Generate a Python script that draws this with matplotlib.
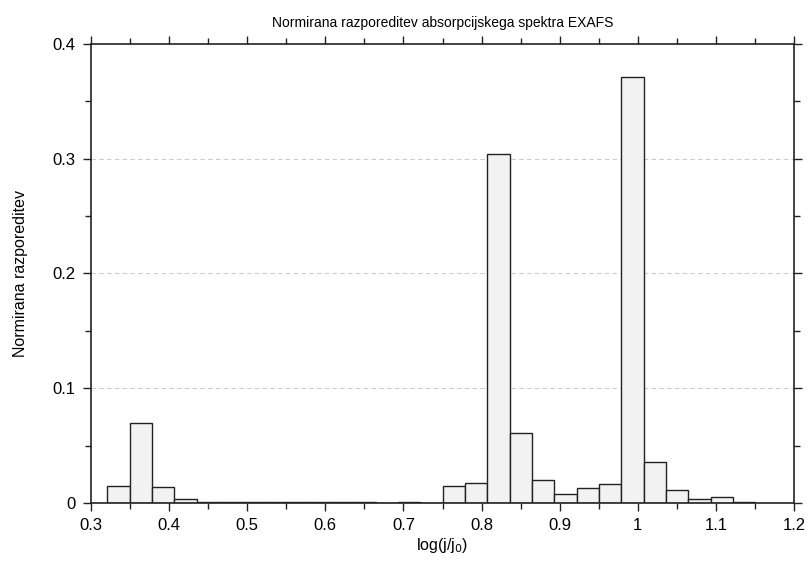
import numpy as np
import matplotlib
matplotlib.use('Agg')
import matplotlib.pyplot as plt
from matplotlib.ticker import MultipleLocator

plt.rcParams['font.family'] = ['Liberation Sans', 'DejaVu Sans']

# histogram bins (left edge of first bin, bin width)
bin_start = 0.3209
bin_width = 0.02861
freq = [0.015, 0.070, 0.014, 0.0035,
        0.0012, 0.0012, 0.0012, 0.0012, 0.0012, 0.0012, 0.0012, 0.0012,
        0.0003, 0.0012, 0.0003,
        0.015, 0.0177, 0.304, 0.0607, 0.0203, 0.0082, 0.0134, 0.0163,
        0.371, 0.036, 0.0116, 0.0035, 0.0055, 0.0006]

x_left = bin_start + bin_width * np.arange(len(freq))

fig = plt.figure(figsize=(8.09, 5.61), dpi=100)
ax = fig.add_axes([0.1125, 0.1034, 0.869, 0.8182])

ax.bar(x_left, freq, width=bin_width, align='edge',
       color='#f2f2f2', edgecolor='#222222', linewidth=1.0, zorder=2)

ax.set_xlim(0.3, 1.2)
ax.set_ylim(0, 0.4)
ax.xaxis.set_major_locator(MultipleLocator(0.1))
ax.xaxis.set_minor_locator(MultipleLocator(0.05))
ax.yaxis.set_major_locator(MultipleLocator(0.1))
ax.yaxis.set_minor_locator(MultipleLocator(0.05))
ax.xaxis.set_major_formatter(plt.FuncFormatter(lambda v, p: ('%g' % round(v, 2))))
ax.yaxis.set_major_formatter(plt.FuncFormatter(lambda v, p: ('%g' % round(v, 2))))

ax.tick_params(which='both', direction='out', top=True, right=True,
               labelsize=12, color='#222222', pad=5)
ax.tick_params(which='major', length=6, width=1)
ax.tick_params(which='minor', length=4, width=1)
for s in ax.spines.values():
    s.set_linewidth(1.2)
    s.set_color('#222222')
    s.set_zorder(3)

for v in [0.1, 0.2, 0.3]:
    ax.axhline(v, color='#cccccc', linestyle=(0, (4, 3)), linewidth=0.8, zorder=1)

ax.set_title('Normirana razporeditev absorpcijskega spektra EXAFS', fontsize=10, pad=12)
ax.set_xlabel('log(j/j$_0$)', fontsize=11.5, labelpad=2)
ax.set_ylabel('Normirana razporeditev', fontsize=11.5, labelpad=18)

fig.savefig('out.png', dpi=100)
